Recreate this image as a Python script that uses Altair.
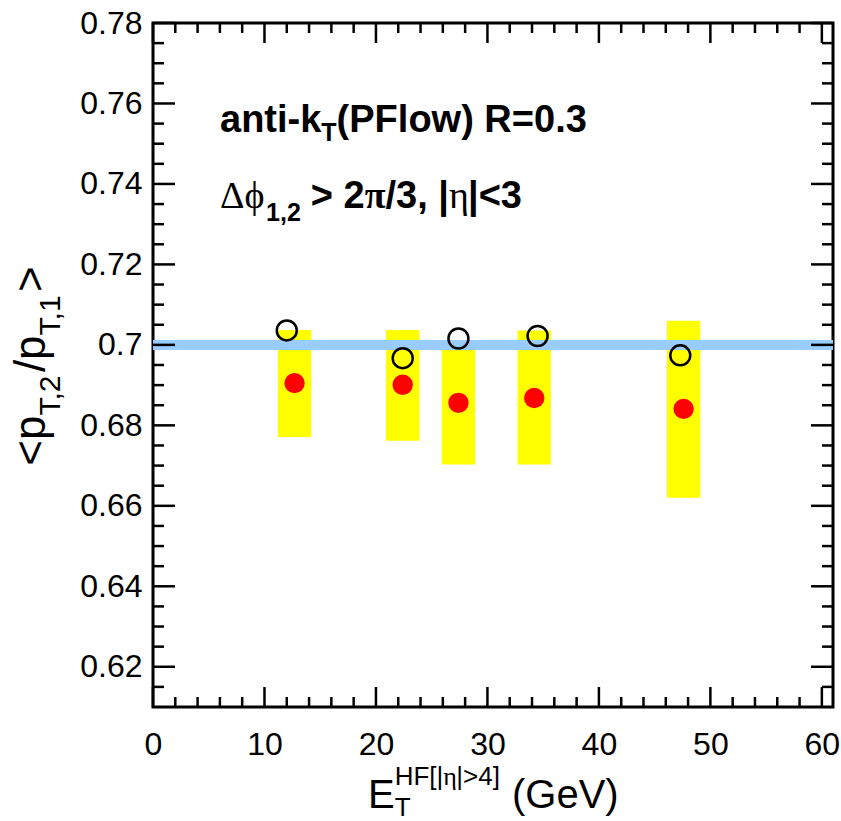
import altair as alt
import pandas as pd

# ---------------- data ----------------
open_x = [12.0, 22.4, 27.4, 34.5, 47.3]
open_y = [0.7036, 0.6967, 0.7016, 0.7022, 0.6974]
red_x = [12.7, 22.4, 27.4, 34.2, 47.6]
red_y = [0.6905, 0.6901, 0.6856, 0.6868, 0.6841]
sys_lo = [0.6771, 0.6762, 0.6703, 0.6703, 0.6620]
sys_hi = [0.7037, 0.7037, 0.6988, 0.7036, 0.7060]
sys_halfwidth = 1.5
ref_level = [0.7]
x_ticks = [0, 10, 20, 30, 40, 50, 60]
y_ticks = [0.62, 0.64, 0.66, 0.68, 0.70, 0.72, 0.74, 0.76, 0.78]
x_domain = [0, 61]
y_domain = [0.61, 0.78]

# ---------------- layout ----------------
W, H = 680, 684
PAD_L, PAD_T = 153, 23
SANS = "Liberation Sans"
SERIF = "Liberation Serif"
LBL = 32

x_minor = [v for v in range(2, 61, 2) if v % 10 != 0]
y_minor = [round(0.615 + 0.005 * i, 3) for i in range(33)]
y_minor = [v for v in y_minor if round(v * 1000) % 20 != 0]

xs = alt.Scale(domain=x_domain, nice=False, zero=False)
ys = alt.Scale(domain=y_domain, nice=False, zero=False)

x_axis = alt.Axis(values=x_ticks, ticks=False, tickSize=0, domain=False, grid=False,
                  labelFontSize=LBL, labelFont=SANS, labelColor="black",
                  labelPadding=47, labelBaseline="alphabetic", labelFlush=False,
                  labelOverlap=False, labelBound=False, title=None)
y_axis = alt.Axis(values=y_ticks, ticks=False, tickSize=0, domain=False, grid=False,
                  labelFontSize=LBL, labelFont=SANS, labelColor="black",
                  labelPadding=11, labelFlush=False, labelOverlap=False,
                  labelBound=False, format=".2~f", title=None)

def X(field):
    return alt.X(f"{field}:Q", scale=xs, axis=x_axis)

def Y(field):
    return alt.Y(f"{field}:Q", scale=ys, axis=y_axis)

sys_df = pd.DataFrame({"x0": [v - sys_halfwidth for v in red_x],
                       "x1": [v + sys_halfwidth for v in red_x],
                       "lo": sys_lo, "hi": sys_hi})
red_df = pd.DataFrame({"x": red_x, "y": red_y})
open_df = pd.DataFrame({"x": open_x, "y": open_y})
ref_df = pd.DataFrame({"y": ref_level, "a": [x_domain[0]], "b": [x_domain[1]]})

boxes = alt.Chart(sys_df).mark_rect(color="#ffff00").encode(
    x=X("x0"), x2="x1:Q", y=Y("lo"), y2="hi:Q")

ref_line = alt.Chart(ref_df).mark_rule(color="#99ccff", strokeWidth=10).encode(
    x=X("a"), x2="b:Q", y=Y("y"))

red_pts = alt.Chart(red_df).mark_circle(color="#ff0000", size=415, opacity=1).encode(
    x=X("x"), y=Y("y"))

open_pts = alt.Chart(open_df).mark_point(shape="circle", filled=False, stroke="black",
                                         strokeWidth=2.5, size=400, opacity=1).encode(
    x=X("x"), y=Y("y"))

# ---------------- tick marks (inward, on all four sides) ----------------
def xticks(vals, length):
    df = pd.DataFrame({"v": vals})
    base = alt.Chart(df).mark_rule(color="black", strokeWidth=2.5)
    bot = base.encode(x=X("v"), y=alt.value(H), y2=alt.value(H - length))
    top = base.encode(x=X("v"), y=alt.value(0), y2=alt.value(length))
    return [bot, top]

def yticks(vals, length):
    df = pd.DataFrame({"v": vals})
    base = alt.Chart(df).mark_rule(color="black", strokeWidth=2.5)
    left = base.encode(y=Y("v"), x=alt.value(0), x2=alt.value(length))
    right = base.encode(y=Y("v"), x=alt.value(W), x2=alt.value(W - length))
    return [left, right]

tick_layers = xticks(x_ticks, 20) + xticks(x_minor, 10) + yticks(y_ticks, 22) + yticks(y_minor, 11)

# ---------------- rich text helper ----------------
REG = {" ": 278, "(": 333, ")": 333, "[": 278, "]": 278, "|": 260, "<": 584, ">": 584,
       "/": 278, ",": 278, ".": 278, "E": 667, "T": 611, "H": 722, "F": 611, "G": 778,
       "e": 556, "V": 667, "p": 556}
BOLD = {"a": 556, "n": 611, "t": 333, "i": 278, "-": 333, "k": 556, "(": 333, "P": 667,
        "F": 611, "l": 278, "o": 611, "w": 778, ")": 333, " ": 278, "R": 722, "=": 584,
        ".": 278, ">": 584, "/": 278, ",": 278, "|": 280, "<": 584, "T": 611}
GREEK = {"Δ": 612, "ϕ": 600, "π": 549, "η": 500}

def width(s, size, bold=False, greek=False):
    tab = GREEK if greek else (BOLD if bold else REG)
    tot = 0
    for ch in s:
        tot += 556 if ch.isdigit() else tab.get(ch, 556)
    return tot * size / 1000.0

def seg(s, x, y, size, bold=False, greek=False, angle=0):
    return alt.Chart(pd.DataFrame({"t": [s]})).mark_text(
        align="left", baseline="alphabetic", fontSize=size,
        fontWeight="bold" if bold else "normal", font=SERIF if greek else SANS,
        angle=angle, color="black").encode(
        x=alt.value(x), y=alt.value(y), text="t:N")

def run(parts, x0, y0, horizontal=True):
    """parts: (text, size, bold, greek, shift, gap_after) ; shift>0 lowers the baseline."""
    out = []
    pos = x0 if horizontal else y0
    for s, size, bold, greek, shift, gap in parts:
        if horizontal:
            out.append(seg(s, pos - PAD_L, y0 + shift - PAD_T, size, bold, greek))
        else:
            out.append(seg(s, x0 + shift - PAD_L, pos - PAD_T, size, bold, greek, angle=270))
        w = width(s, size, bold, greek) + gap
        pos = pos + w if horizontal else pos - w
    return out

F1, S1 = 38, 25
line1 = run([("anti-k", F1, True, False, 0, 0), ("T", S1, True, False, 9, 0),
             ("(PFlow) R=0.3", F1, True, False, 0, 0)], 220, 132)
line2 = run([("Δϕ", F1, False, True, 0, 0), ("1,2", S1, True, False, 13, 10),
             ("> 2", F1, True, False, 0, 0), ("π", F1, True, True, 0, 0),
             ("/3, |", F1, True, False, 0, 0), ("η", F1, False, True, 0, 0),
             ("|<3", F1, True, False, 0, 0)], 220, 208)

FX, SX = 40, 26
e_w = width("E", FX)
xtitle = [seg("E", 368 - PAD_L, 808 - PAD_T, FX),
          seg("T", 368 + e_w - PAD_L, 816 - PAD_T, SX)]
xtitle += run([("HF[|", SX, False, False, 0, 0), ("η", SX, False, True, 0, 0),
               ("|>4]", SX, False, False, 0, 12), ("(GeV)", FX, False, False, 23, 0)],
              368 + e_w, 785)

FY, SY = 44, 30
ytitle_parts = [("<p", FY, False, False, 0, 0), ("T,2", SY, False, False, 15, 0),
                ("/p", FY, False, False, 0, 0), ("T,1", SY, False, False, 15, 0),
                (">", FY, False, False, 0, 0)]
ylen = sum(width(p[0], p[1]) for p in ytitle_parts)
ytitle = run(ytitle_parts, 45, 366 + ylen / 2, horizontal=False)

chart = alt.layer(boxes, ref_line, red_pts, open_pts, *tick_layers,
                  *line1, *line2, *xtitle, *ytitle).properties(
    width=W, height=H, autosize="none",
    padding={"left": PAD_L, "top": PAD_T, "right": 841 - PAD_L - W, "bottom": 821 - PAD_T - H},
    background="white"
).configure_view(stroke="black", strokeWidth=3)

chart.save("out.html", embed_options={"renderer": "svg", "actions": False})
